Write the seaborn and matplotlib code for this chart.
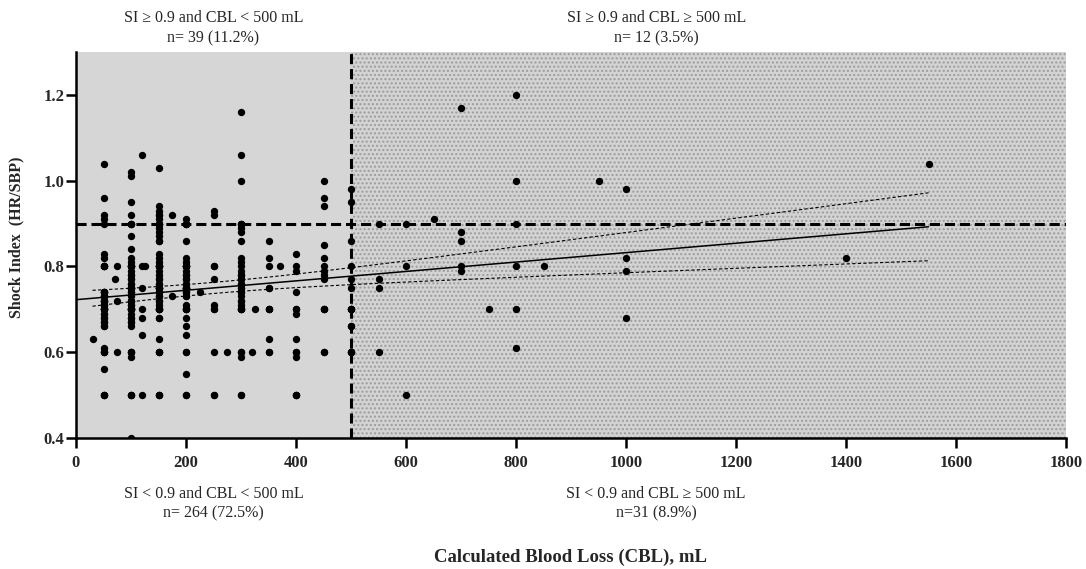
import numpy as np
import pandas as pd
import seaborn as sns
import matplotlib.pyplot as plt

# Shock index values read per calculated-blood-loss column (mL)
si_cbl_50 = [1.04, 0.96, 0.92, 0.91, 0.90,
             0.83, 0.82, 0.80, 0.80, 0.80, 0.80, 0.74, 0.74, 0.74, 0.74, 0.73, 0.73,
             0.73, 0.72, 0.72, 0.72, 0.72, 0.71, 0.71, 0.70, 0.70, 0.70, 0.70, 0.70,
             0.69, 0.69, 0.68, 0.68, 0.67, 0.67, 0.66, 0.66, 0.61, 0.60, 0.60, 0.60,
             0.56, 0.50, 0.50, 0.50]
si_cbl_100 = [1.02, 1.01, 0.95, 0.92, 0.90, 0.90, 0.90,
              0.87, 0.84, 0.82, 0.81, 0.80, 0.80, 0.80, 0.80, 0.80, 0.79, 0.78, 0.78,
              0.77, 0.77, 0.76, 0.76, 0.75, 0.75, 0.75, 0.75, 0.75, 0.74, 0.74, 0.73,
              0.72, 0.72, 0.72, 0.71, 0.71, 0.70, 0.70, 0.70, 0.70, 0.70, 0.70, 0.69,
              0.68, 0.68, 0.67, 0.67, 0.66, 0.60, 0.60, 0.60, 0.59, 0.50, 0.50, 0.50,
              0.40]
si_cbl_150 = [1.03, 0.94, 0.93, 0.92, 0.92, 0.91, 0.90, 0.90, 0.90, 0.90,
              0.89, 0.88, 0.87, 0.86, 0.86, 0.83, 0.82, 0.81, 0.80, 0.80, 0.80, 0.80,
              0.80, 0.79, 0.78, 0.77, 0.77, 0.76, 0.76, 0.75, 0.75, 0.75, 0.75, 0.75,
              0.74, 0.74, 0.73, 0.73, 0.72, 0.72, 0.71, 0.70, 0.70, 0.70, 0.70, 0.70,
              0.68, 0.68, 0.63, 0.60, 0.60, 0.60, 0.50, 0.50, 0.50]
si_cbl_200 = [0.91, 0.90, 0.90, 0.90,
              0.86, 0.82, 0.81, 0.80, 0.80, 0.80, 0.80, 0.80, 0.79, 0.78, 0.78, 0.77,
              0.77, 0.76, 0.76, 0.75, 0.75, 0.75, 0.75, 0.75, 0.74, 0.74, 0.73, 0.73,
              0.71, 0.70, 0.70, 0.70, 0.70, 0.68, 0.66, 0.64, 0.60, 0.60, 0.55, 0.50,
              0.50]
si_cbl_250 = [0.93, 0.92, 0.80, 0.80, 0.77, 0.71, 0.70, 0.70, 0.60, 0.50, 0.50]
si_cbl_300 = [1.16, 1.06, 1.00, 0.90, 0.90, 0.90,
              0.89, 0.88, 0.86, 0.82, 0.81, 0.80, 0.79, 0.78, 0.78, 0.77, 0.77, 0.76,
              0.76, 0.75, 0.75, 0.74, 0.74, 0.73, 0.72, 0.72, 0.71, 0.70, 0.70, 0.70,
              0.70, 0.60, 0.60, 0.59, 0.50, 0.50]
si_cbl_350 = [0.86, 0.82, 0.80, 0.75, 0.75, 0.70, 0.70, 0.70, 0.63, 0.60, 0.60]
si_cbl_400 = [0.83, 0.80, 0.79, 0.74, 0.70, 0.70, 0.69, 0.63, 0.60, 0.60, 0.59,
              0.50, 0.50, 0.50]
si_cbl_450 = [1.00, 0.96, 0.94, 0.85, 0.82, 0.80, 0.79, 0.78, 0.77, 0.70, 0.70,
              0.70, 0.60, 0.60]
si_cbl_500 = [0.98, 0.95, 0.86, 0.80, 0.77, 0.75, 0.70, 0.70, 0.70, 0.70, 0.66,
              0.66, 0.60, 0.60, 0.60]
si_cbl_550 = [0.90, 0.77, 0.75, 0.60]
si_cbl_600 = [0.90, 0.80, 0.50]
si_cbl_700 = [1.17, 0.88, 0.86, 0.80, 0.79]
si_cbl_800 = [1.20, 1.00, 0.90, 0.80, 0.70, 0.61]
si_cbl_1000 = [0.98, 0.82, 0.79, 0.68]

# isolated patients off the main columns
other_cbl = [30, 70, 75, 75, 75, 120, 120, 120, 120, 120, 120, 120, 125, 175, 175,
             225, 275, 320, 325, 370, 650, 750, 850, 950, 1400, 1550]
other_si = [0.63, 0.77, 0.80, 0.72, 0.60, 1.06, 0.80, 0.75, 0.70, 0.68, 0.64, 0.50,
            0.80, 0.92, 0.73, 0.74, 0.60, 0.60, 0.70, 0.80, 0.91, 0.70, 0.80, 1.00,
            0.82, 1.04]

columns = {50: si_cbl_50, 100: si_cbl_100, 150: si_cbl_150, 200: si_cbl_200,
           250: si_cbl_250, 300: si_cbl_300, 350: si_cbl_350, 400: si_cbl_400,
           450: si_cbl_450, 500: si_cbl_500, 550: si_cbl_550, 600: si_cbl_600,
           700: si_cbl_700, 800: si_cbl_800, 1000: si_cbl_1000}

rows = [(c, s) for c, vals in columns.items() for s in vals]
rows += list(zip(other_cbl, other_si))
df = pd.DataFrame(rows, columns=["cbl", "si"])

quadrant_text = {
    "top_left": "SI \u2265 0.9 and CBL < 500 mL\nn= 39 (11.2%)",
    "top_right": "SI \u2265 0.9 and CBL \u2265 500 mL\nn= 12 (3.5%)",
    "bottom_left": "SI < 0.9 and CBL < 500 mL\nn= 264 (72.5%)",
    "bottom_right": "SI < 0.9 and CBL \u2265 500 mL\nn=31 (8.9%)",
}

sns.set_style("ticks")
plt.rcParams["font.family"] = ["Liberation Serif", "DejaVu Serif"]

fig = plt.figure(figsize=(10.86, 5.69), dpi=100)
ax = fig.add_axes([76 / 1086, 131 / 569, 990 / 1086, 386 / 569])

# shaded quadrants
ax.axvspan(0, 500, facecolor="#d6d6d6", lw=0, zorder=0)
ax.axvspan(500, 1800, facecolor="#d3d3d3", edgecolor="#9c9c9c", hatch="....",
           lw=0, zorder=0)

sns.scatterplot(data=df, x="cbl", y="si", color="black", s=28, linewidth=0,
                ax=ax, legend=False, zorder=4)

# linear regression with 95% confidence band
x = df["cbl"].to_numpy(float)
y = df["si"].to_numpy(float)
n = len(x)
slope, intercept = np.polyfit(x, y, 1)
resid = y - (intercept + slope * x)
s_err = np.sqrt(np.sum(resid ** 2) / (n - 2))
sxx = np.sum((x - x.mean()) ** 2)
t_crit = 1.967

line_x = np.linspace(0, x.max(), 100)
ax.plot(line_x, intercept + slope * line_x, color="black", lw=1.1, zorder=3)
band_x = np.linspace(x.min(), x.max(), 100)
half = t_crit * s_err * np.sqrt(1 / n + (band_x - x.mean()) ** 2 / sxx)
fit_b = intercept + slope * band_x
ax.plot(band_x, fit_b + half, color="black", lw=0.8, ls=(0, (3, 2)), zorder=3)
ax.plot(band_x, fit_b - half, color="black", lw=0.8, ls=(0, (3, 2)), zorder=3)

# cut-offs
ax.axhline(0.9, color="black", lw=2.2, ls=(0, (3.3, 1.6)), zorder=5)
ax.axvline(500, color="black", lw=2.2, ls=(0, (3.3, 1.6)), zorder=5)

ax.set_xlim(0, 1800)
ax.set_ylim(0.4, 1.3)
ax.set_xticks(range(0, 1801, 200))
ax.set_yticks([0.4, 0.6, 0.8, 1.0, 1.2])
ax.set_yticklabels(["0.4", "0.6", "0.8", "1.0", "1.2"])
for lab in ax.get_xticklabels() + ax.get_yticklabels():
    lab.set_fontweight("bold")
    lab.set_fontsize(12)
ax.tick_params(axis="both", direction="out", length=7, width=1.8, color="black")
ax.tick_params(axis="x", pad=5)
ax.tick_params(axis="y", pad=1.5)
sns.despine(ax=ax)
for side in ["left", "bottom"]:
    ax.spines[side].set_linewidth(1.8)
    ax.spines[side].set_color("black")
    ax.spines[side].set_zorder(6)

ax.set_xlabel("Calculated Blood Loss (CBL), mL", fontsize=13.5, fontweight="bold")
ax.xaxis.set_label_coords(0.5, -0.2876)
ax.set_ylabel("Shock Index  (HR/SBP)", fontsize=11.5, fontweight="bold", va="center")
ax.yaxis.set_label_coords(-0.06, 0.52)

tr = ax.get_xaxis_transform()
ax.text(250, 1.062, quadrant_text["top_left"], transform=tr, ha="center",
        va="center", fontsize=11.5, linespacing=1.35)
ax.text(1055, 1.062, quadrant_text["top_right"], transform=tr, ha="center",
        va="center", fontsize=11.5, linespacing=1.35)
ax.text(250, -0.17, quadrant_text["bottom_left"], transform=tr, ha="center",
        va="center", fontsize=11.5, linespacing=1.25)
ax.text(1055, -0.17, quadrant_text["bottom_right"], transform=tr, ha="center",
        va="center", fontsize=11.5, linespacing=1.25)

fig.savefig("out.png", dpi=100)
